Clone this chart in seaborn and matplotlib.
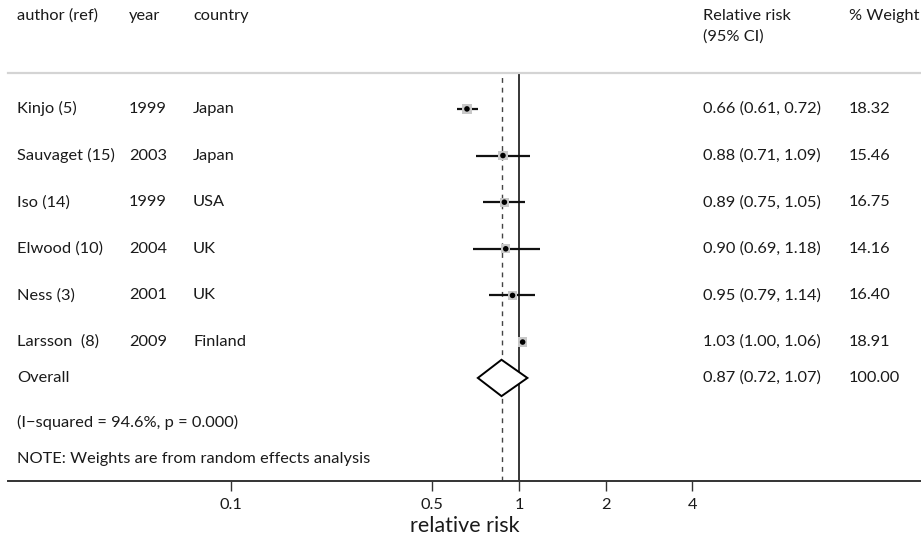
import numpy as np
import pandas as pd
import matplotlib
matplotlib.use("Agg")
import matplotlib.pyplot as plt
import matplotlib.transforms as mtransforms
from matplotlib.patches import Polygon
import seaborn as sns

# ---- data ----
authors = ["Kinjo (5)", "Sauvaget (15)", "Iso (14)", "Elwood (10)", "Ness (3)", "Larsson  (8)"]
years = ["1999", "2003", "1999", "2004", "2001", "2009"]
countries = ["Japan", "Japan", "USA", "UK", "UK", "Finland"]
rr = [0.66, 0.88, 0.89, 0.90, 0.95, 1.03]
lower = [0.61, 0.71, 0.75, 0.69, 0.79, 1.00]
upper = [0.72, 1.09, 1.05, 1.18, 1.14, 1.06]
weights = [18.32, 15.46, 16.75, 14.16, 16.40, 18.91]
overall = (0.87, 0.72, 1.07)
overall_weight = 100.00
het_text = "(I\u2212squared = 94.6%, p = 0.000)"
note_text = "NOTE: Weights are from random effects analysis"
xticks = [0.1, 0.5, 1, 2, 4]
xtick_labels = ["0.1", "0.5", "1", "2", "4"]

df = pd.DataFrame({"author": authors, "year": years, "country": countries,
                   "rr": rr, "lower": lower, "upper": upper, "weight": weights})
df["row"] = np.arange(len(df))

sns.set_style("white")
plt.rcParams["font.family"] = ["Lato", "DejaVu Sans"]
TXT = "#1a1a1a"
FS = 11.8

W, H = 921, 538
fig = plt.figure(figsize=(W / 100, H / 100), dpi=100)
ax = fig.add_axes([8 / W, 1 - 481 / H, 913 / W, (481 - 73) / H])
ax.set_xscale("log")
ax.set_xlim(10 ** -1.774, 10 ** 1.396)

ov_row = 5.77
het_row = 6.73
note_row = 7.51
ax.set_ylim(7.98, -0.77)

# reference lines
ax.axvline(1, color="black", lw=1.1, zorder=1)
ax.axvline(overall[0], color="#444444", lw=1.0, ls=(0, (3.5, 3.5)), zorder=1)

# CI lines
ax.hlines(df["row"], df["lower"], df["upper"], color="#111111", lw=1.6, zorder=2)
# weight boxes and point estimates
sns.scatterplot(data=df, x="rr", y="row", marker="s", s=45, color="#c8c8c8",
                edgecolor="none", ax=ax, zorder=3, legend=False)
sns.scatterplot(data=df, x="rr", y="row", marker="o", s=16, color="black",
                edgecolor="none", ax=ax, zorder=4, legend=False)

# overall diamond
est, lo, hi = overall
dh = 0.39
diamond = Polygon([(lo, ov_row), (est, ov_row - dh), (hi, ov_row), (est, ov_row + dh)],
                  closed=True, facecolor="white", edgecolor="black", lw=1.4, zorder=5)
ax.add_patch(diamond)

# axes styling
for s in ["left", "right"]:
    ax.spines[s].set_visible(False)
ax.spines["top"].set_color("#d4d4d4")
ax.spines["top"].set_linewidth(1.6)
ax.spines["bottom"].set_color("#333333")
ax.spines["bottom"].set_linewidth(1.4)
ax.set_yticks([])
ax.set_xticks(xticks)
ax.set_xticklabels(xtick_labels)
ax.xaxis.set_minor_locator(matplotlib.ticker.NullLocator())
ax.tick_params(axis="x", direction="out", length=7, width=1.0, color="#333333",
               labelsize=FS, labelcolor=TXT, pad=5, bottom=True)
ax.set_xlabel("relative risk", fontsize=15.5, color=TXT, labelpad=3)
ax.set_ylabel("")

# text columns
trans = mtransforms.blended_transform_factory(fig.transFigure, ax.transData)
colx = {"author": 17 / W, "year": 129 / W, "country": 193 / W, "ci": 703 / W, "w": 849 / W}
for _, r in df.iterrows():
    ax.text(colx["author"], r["row"], r["author"], transform=trans, va="center", fontsize=FS, color=TXT)
    ax.text(colx["year"], r["row"], r["year"], transform=trans, va="center", fontsize=FS, color=TXT)
    ax.text(colx["country"], r["row"], r["country"], transform=trans, va="center", fontsize=FS, color=TXT)
    ax.text(colx["ci"], r["row"], f"{r['rr']:.2f} ({r['lower']:.2f}, {r['upper']:.2f})",
            transform=trans, va="center", fontsize=FS, color=TXT)
    ax.text(colx["w"], r["row"], f"{r['weight']:.2f}", transform=trans, va="center", fontsize=FS, color=TXT)

ax.text(colx["author"], ov_row, "Overall", transform=trans, va="center", fontsize=FS, color=TXT)
ax.text(colx["ci"], ov_row, f"{est:.2f} ({lo:.2f}, {hi:.2f})", transform=trans, va="center", fontsize=FS, color=TXT)
ax.text(colx["w"], ov_row, f"{overall_weight:.2f}", transform=trans, va="center", fontsize=FS, color=TXT)
ax.text(colx["author"], het_row, het_text, transform=trans, va="center", fontsize=FS, color=TXT)
ax.text(colx["author"], note_row, note_text, transform=trans, va="center", fontsize=FS, color=TXT)

# headers
hy1 = 1 - 16 / H
hy2 = 1 - 37 / H
fig.text(colx["author"], hy1, "author (ref)", va="center", fontsize=FS, color=TXT)
fig.text(colx["year"], hy1, "year", va="center", fontsize=FS, color=TXT)
fig.text(colx["country"], hy1, "country", va="center", fontsize=FS, color=TXT)
fig.text(colx["ci"], hy1, "Relative risk", va="center", fontsize=FS, color=TXT)
fig.text(colx["ci"], hy2, "(95% CI)", va="center", fontsize=FS, color=TXT)
fig.text(colx["w"], hy1, "% Weight", va="center", fontsize=FS, color=TXT)

fig.savefig("out.png", dpi=100)
